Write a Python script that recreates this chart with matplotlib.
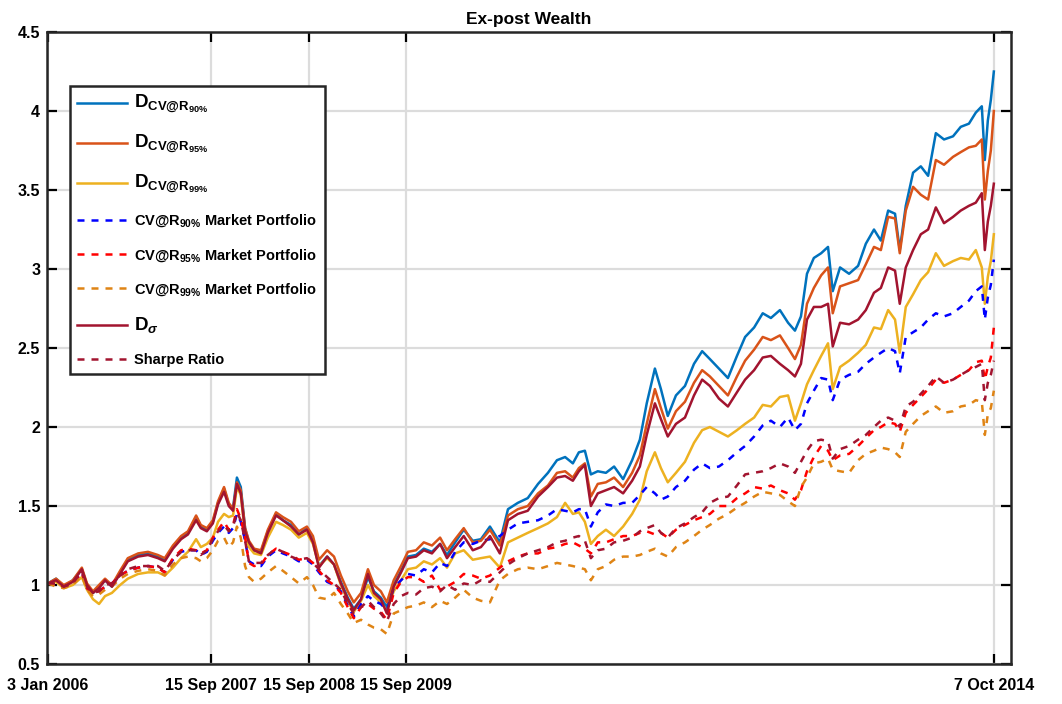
import numpy as np
import matplotlib
matplotlib.use("Agg")
import matplotlib.pyplot as plt

# bold sans like the matlab export (no narrow font here)
plt.rcParams['font.family'] = ['Liberation Sans', 'DejaVu Sans']
plt.rcParams['font.weight'] = 'bold'
plt.rcParams['mathtext.fontset'] = 'custom'
plt.rcParams['mathtext.rm'] = 'Liberation Sans:bold'
plt.rcParams['mathtext.bf'] = 'Liberation Sans:bold'
plt.rcParams['mathtext.it'] = 'Liberation Sans:italic'

# trading day index (3 Jan 2006 = 0)
days = [0, 19, 37, 58, 79, 91, 105, 119, 133, 149, 168, 186, 210, 233, 256, 272,
        291, 310, 326, 345, 356, 370, 384, 396, 410, 421, 431, 440, 449, 459, 468,
        480, 496, 512, 531, 547, 566, 584, 603, 617, 631, 650, 666, 682, 698, 712,
        729, 745, 759, 775, 789, 805, 822, 838, 857, 875, 894, 913, 929, 948, 968,
        989, 1008, 1029, 1052, 1071, 1094, 1117, 1141, 1164, 1185, 1204, 1222, 1236,
        1250, 1264, 1280, 1299, 1318, 1339, 1360, 1378, 1394, 1413, 1427, 1443, 1462,
        1483, 1504, 1523, 1541, 1562, 1583, 1604, 1623, 1644, 1664, 1683, 1704, 1723,
        1739, 1753, 1767, 1783, 1800, 1816, 1827, 1844, 1865, 1886, 1904, 1923, 1939,
        1956, 1972, 1983, 1997, 2014, 2032, 2049, 2067, 2086, 2107, 2125, 2144, 2160,
        2174, 2181, 2188, 2195, 2202]

d_cvar90 = [1.01, 1.04, 0.99, 1.03, 1.10, 1.00, 0.95, 0.99, 1.03, 0.99, 1.08, 1.16, 1.19, 1.20, 1.18, 1.16,
            1.24, 1.30, 1.33, 1.43, 1.37, 1.35, 1.40, 1.52, 1.61, 1.51, 1.49, 1.68, 1.62, 1.36, 1.27,
            1.22, 1.21, 1.34, 1.45, 1.41, 1.38, 1.32, 1.36, 1.28, 1.12, 1.18, 1.13, 1.02, 0.92, 0.85,
            0.91, 1.05, 0.96, 0.92, 0.86, 1.00, 1.09, 1.18, 1.19, 1.23, 1.21, 1.26, 1.19, 1.27, 1.35,
            1.28, 1.29, 1.37, 1.27, 1.48, 1.52, 1.55, 1.64, 1.71, 1.79, 1.81, 1.77, 1.84,
            1.85, 1.70, 1.72, 1.71, 1.75, 1.67, 1.79, 1.92, 2.15, 2.37, 2.24, 2.07, 2.20,
            2.26, 2.40, 2.48, 2.43, 2.37, 2.31, 2.45, 2.57, 2.63, 2.72, 2.69, 2.74, 2.66,
            2.61, 2.70, 2.97, 3.07, 3.10, 3.14, 2.86, 3.01, 2.97, 3.02, 3.16, 3.25, 3.18,
            3.37, 3.35, 3.12, 3.40, 3.61, 3.65, 3.59, 3.86, 3.82, 3.84, 3.90, 3.92, 3.99,
            4.03, 3.69, 3.94, 4.07, 4.25]

d_cvar95 = [1.01, 1.04, 1.00, 1.03, 1.11, 1.01, 0.96, 1.00, 1.04, 1.00, 1.09, 1.17, 1.20, 1.21, 1.19, 1.17,
            1.25, 1.31, 1.34, 1.44, 1.38, 1.36, 1.41, 1.53, 1.62, 1.52, 1.48, 1.65, 1.60, 1.36, 1.28,
            1.23, 1.22, 1.35, 1.46, 1.43, 1.40, 1.34, 1.37, 1.31, 1.16, 1.22, 1.18, 1.06, 0.96, 0.89,
            0.95, 1.10, 1.00, 0.96, 0.89, 1.03, 1.12, 1.21, 1.22, 1.27, 1.25, 1.30, 1.22, 1.29, 1.36,
            1.27, 1.28, 1.35, 1.25, 1.44, 1.48, 1.50, 1.58, 1.63, 1.71, 1.72, 1.68, 1.74,
            1.77, 1.56, 1.64, 1.65, 1.68, 1.62, 1.71, 1.82, 2.02, 2.24, 2.12, 1.99, 2.10,
            2.16, 2.28, 2.36, 2.32, 2.26, 2.20, 2.32, 2.42, 2.49, 2.57, 2.55, 2.58, 2.50,
            2.43, 2.52, 2.78, 2.88, 2.96, 3.01, 2.72, 2.89, 2.91, 2.93, 3.03, 3.14, 3.12,
            3.33, 3.32, 3.10, 3.37, 3.52, 3.47, 3.44, 3.69, 3.66, 3.71, 3.74, 3.77, 3.78,
            3.82, 3.44, 3.62, 3.75, 4.00]

d_cvar99 = [1.01, 1.02, 0.98, 1.00, 1.05, 0.97, 0.91, 0.88, 0.93, 0.95, 1.00, 1.04, 1.07, 1.08, 1.08, 1.06,
            1.11, 1.17, 1.21, 1.29, 1.24, 1.26, 1.30, 1.40, 1.45, 1.43, 1.44, 1.62, 1.57, 1.32, 1.24,
            1.20, 1.19, 1.30, 1.40, 1.38, 1.35, 1.30, 1.33, 1.26, 1.12, 1.17, 1.13, 1.00, 0.90, 0.83,
            0.90, 1.00, 0.93, 0.89, 0.84, 0.96, 1.03, 1.10, 1.11, 1.15, 1.13, 1.17, 1.11, 1.20, 1.22,
            1.16, 1.17, 1.18, 1.11, 1.27, 1.30, 1.33, 1.36, 1.39, 1.43, 1.52, 1.45, 1.46,
            1.40, 1.26, 1.31, 1.35, 1.31, 1.37, 1.45, 1.54, 1.72, 1.84, 1.74, 1.65, 1.71,
            1.78, 1.90, 1.98, 2.00, 1.97, 1.94, 1.98, 2.02, 2.06, 2.14, 2.13, 2.19, 2.20,
            2.04, 2.15, 2.27, 2.36, 2.45, 2.53, 2.24, 2.38, 2.42, 2.47, 2.52, 2.63, 2.62,
            2.74, 2.68, 2.47, 2.76, 2.84, 2.93, 2.98, 3.10, 3.02, 3.05, 3.07, 3.06, 3.12,
            3.01, 2.78, 2.95, 3.05, 3.22]

mkt_cvar90 = [1.01, 1.00, 0.99, 1.01, 1.08, 0.98, 0.95, 0.96, 0.99, 1.01, 1.06, 1.09, 1.11, 1.12, 1.11, 1.08,
              1.16, 1.21, 1.22, 1.22, 1.19, 1.21, 1.28, 1.33, 1.37, 1.33, 1.36, 1.45, 1.40, 1.28, 1.15,
              1.13, 1.12, 1.18, 1.22, 1.20, 1.18, 1.15, 1.16, 1.13, 1.08, 1.02, 1.00, 0.96, 0.87, 0.80,
              0.88, 0.93, 0.90, 0.88, 0.84, 0.98, 1.03, 1.07, 1.06, 1.10, 1.08, 1.14, 1.12, 1.21, 1.27,
              1.26, 1.28, 1.29, 1.31, 1.35, 1.39, 1.40, 1.41, 1.44, 1.48, 1.47, 1.46, 1.48,
              1.48, 1.37, 1.46, 1.51, 1.50, 1.52, 1.52, 1.57, 1.62, 1.58, 1.54, 1.56, 1.62,
              1.66, 1.73, 1.77, 1.74, 1.75, 1.79, 1.84, 1.88, 1.94, 2.01, 2.04, 2.00, 2.06,
              1.98, 2.02, 2.15, 2.23, 2.31, 2.30, 2.17, 2.30, 2.33, 2.35, 2.40, 2.44, 2.47,
              2.50, 2.48, 2.34, 2.57, 2.60, 2.63, 2.68, 2.72, 2.70, 2.72, 2.76, 2.80, 2.86,
              2.89, 2.68, 2.82, 2.90, 3.06]

mkt_cvar95 = [1.01, 1.00, 0.99, 1.01, 1.08, 0.98, 0.95, 0.96, 0.99, 1.01, 1.06, 1.09, 1.11, 1.12, 1.11, 1.08,
              1.17, 1.22, 1.23, 1.22, 1.20, 1.22, 1.30, 1.35, 1.40, 1.35, 1.38, 1.48, 1.42, 1.30, 1.14,
              1.12, 1.13, 1.19, 1.23, 1.21, 1.19, 1.16, 1.17, 1.14, 1.09, 1.03, 1.00, 0.95, 0.86, 0.79,
              0.86, 0.88, 0.85, 0.83, 0.78, 0.95, 1.02, 1.05, 1.05, 1.02, 1.06, 0.97, 0.99, 1.02, 1.07,
              1.06, 1.04, 1.06, 1.11, 1.15, 1.18, 1.20, 1.20, 1.23, 1.24, 1.26, 1.27, 1.25,
              1.23, 1.20, 1.27, 1.27, 1.29, 1.31, 1.31, 1.33, 1.34, 1.32, 1.33, 1.30, 1.35,
              1.38, 1.41, 1.43, 1.45, 1.50, 1.50, 1.55, 1.58, 1.62, 1.61, 1.63, 1.60, 1.58,
              1.54, 1.60, 1.72, 1.81, 1.88, 1.85, 1.79, 1.82, 1.83, 1.88, 1.93, 1.98, 2.00,
              2.03, 2.02, 1.97, 2.09, 2.14, 2.19, 2.24, 2.30, 2.28, 2.30, 2.33, 2.36, 2.41,
              2.42, 2.30, 2.38, 2.44, 2.63]

mkt_cvar99 = [1.01, 0.99, 0.98, 1.00, 1.06, 0.97, 0.93, 0.94, 0.97, 0.99, 1.04, 1.07, 1.09, 1.10, 1.09, 1.06,
              1.13, 1.17, 1.18, 1.17, 1.15, 1.17, 1.22, 1.28, 1.30, 1.24, 1.27, 1.37, 1.30, 1.12, 1.05,
              1.02, 1.04, 1.08, 1.12, 1.09, 1.05, 1.01, 1.05, 1.00, 0.92, 0.91, 0.95, 0.88, 0.82, 0.76,
              0.78, 0.75, 0.73, 0.72, 0.69, 0.82, 0.84, 0.86, 0.87, 0.89, 0.86, 0.90, 0.88, 0.92, 0.97,
              0.92, 0.90, 0.89, 1.03, 1.07, 1.10, 1.11, 1.10, 1.12, 1.14, 1.13, 1.12, 1.11,
              1.10, 1.03, 1.10, 1.12, 1.16, 1.18, 1.18, 1.19, 1.21, 1.23, 1.20, 1.18, 1.24,
              1.27, 1.31, 1.35, 1.38, 1.42, 1.45, 1.49, 1.52, 1.56, 1.59, 1.58, 1.57, 1.53,
              1.50, 1.62, 1.68, 1.77, 1.78, 1.80, 1.73, 1.72, 1.71, 1.79, 1.83, 1.85, 1.87,
              1.86, 1.84, 1.81, 1.97, 2.02, 2.07, 2.10, 2.13, 2.09, 2.10, 2.13, 2.14, 2.17,
              2.16, 1.95, 2.08, 2.12, 2.23]

d_sigma = [1.01, 1.03, 0.99, 1.02, 1.10, 1.00, 0.95, 0.98, 1.03, 0.99, 1.07, 1.15, 1.18, 1.19, 1.17, 1.15,
           1.23, 1.29, 1.32, 1.41, 1.36, 1.34, 1.39, 1.51, 1.59, 1.50, 1.47, 1.64, 1.58, 1.34, 1.27,
           1.22, 1.20, 1.33, 1.44, 1.41, 1.37, 1.32, 1.35, 1.27, 1.11, 1.18, 1.13, 1.01, 0.91, 0.84,
           0.91, 1.07, 0.95, 0.91, 0.82, 0.99, 1.08, 1.17, 1.18, 1.22, 1.20, 1.26, 1.17, 1.24, 1.31,
           1.22, 1.24, 1.31, 1.20, 1.41, 1.45, 1.47, 1.56, 1.62, 1.68, 1.69, 1.66, 1.72,
           1.76, 1.50, 1.58, 1.60, 1.62, 1.58, 1.66, 1.75, 1.95, 2.15, 2.05, 1.94, 2.02,
           2.06, 2.20, 2.30, 2.26, 2.18, 2.13, 2.22, 2.30, 2.36, 2.44, 2.45, 2.40, 2.36,
           2.32, 2.40, 2.68, 2.76, 2.76, 2.78, 2.51, 2.66, 2.65, 2.68, 2.74, 2.85, 2.88,
           3.01, 2.99, 2.78, 3.01, 3.12, 3.22, 3.25, 3.39, 3.29, 3.33, 3.37, 3.40, 3.42,
           3.48, 3.12, 3.30, 3.40, 3.54]

sharpe = [1.01, 1.01, 0.99, 1.01, 1.09, 0.99, 0.95, 0.96, 1.00, 1.01, 1.06, 1.10, 1.12, 1.12, 1.12, 1.09,
          1.16, 1.21, 1.22, 1.22, 1.19, 1.22, 1.29, 1.34, 1.38, 1.34, 1.37, 1.46, 1.41, 1.28, 1.15,
          1.14, 1.14, 1.19, 1.23, 1.21, 1.18, 1.16, 1.17, 1.14, 1.10, 1.05, 1.01, 0.97, 0.88, 0.82,
          0.86, 0.90, 0.86, 0.82, 0.77, 0.88, 0.93, 0.95, 0.94, 0.98, 0.99, 0.96, 1.00, 0.97, 1.01,
          1.00, 1.03, 1.02, 1.08, 1.13, 1.17, 1.20, 1.22, 1.24, 1.27, 1.28, 1.30, 1.31,
          1.28, 1.17, 1.22, 1.23, 1.27, 1.28, 1.30, 1.34, 1.36, 1.38, 1.33, 1.30, 1.36,
          1.39, 1.43, 1.46, 1.52, 1.55, 1.56, 1.63, 1.70, 1.71, 1.72, 1.74, 1.77, 1.75,
          1.71, 1.78, 1.85, 1.91, 1.92, 1.91, 1.80, 1.86, 1.88, 1.92, 1.95, 2.00, 2.04,
          2.06, 2.04, 2.00, 2.13, 2.16, 2.21, 2.26, 2.32, 2.28, 2.30, 2.33, 2.36, 2.38,
          2.40, 2.17, 2.28, 2.33, 2.42]

tick_days = [0, 380, 608, 834, 2202]
tick_labels = ['3 Jan 2006', '15 Sep 2007', '15 Sep 2008', '15 Sep 2009', '7 Oct 2014']

fig = plt.figure(figsize=(10.62, 7.04), dpi=100)
ax = fig.add_axes([0.0443, 0.0568, 0.9077, 0.8977])

lw = 1.8
dash = (0, (2.8, 2.8))
ax.plot(days, d_cvar90, color='#0072BD', lw=lw,
        label=r'$\mathbf{D}_{\mathbf{CV@R}_{\mathbf{90\%}}}$')
ax.plot(days, d_cvar95, color='#D95319', lw=lw,
        label=r'$\mathbf{D}_{\mathbf{CV@R}_{\mathbf{95\%}}}$')
ax.plot(days, d_cvar99, color='#EDB120', lw=lw,
        label=r'$\mathbf{D}_{\mathbf{CV@R}_{\mathbf{99\%}}}$')
ax.plot(days, mkt_cvar90, color='#0000FF', lw=lw, ls=dash,
        label=r'CV@R$_{\mathbf{90\%}}$ Market Portfolio')
ax.plot(days, mkt_cvar95, color='#FF0000', lw=lw, ls=dash,
        label=r'CV@R$_{\mathbf{95\%}}$ Market Portfolio')
ax.plot(days, mkt_cvar99, color='#DF8415', lw=lw, ls=dash,
        label=r'CV@R$_{\mathbf{99\%}}$ Market Portfolio')
ax.plot(days, d_sigma, color='#A2142F', lw=lw,
        label=r'$\mathbf{D}_{\sigma}$')
ax.plot(days, sharpe, color='#A2142F', lw=lw, ls=dash,
        label='Sharpe Ratio')

ax.set_xlim(-2, 2242)
ax.set_ylim(0.5, 4.5)
ax.set_xticks(tick_days)
ax.set_xticklabels(tick_labels)
ax.set_yticks(np.arange(0.5, 4.51, 0.5))
ax.set_yticklabels(['0.5', '1', '1.5', '2', '2.5', '3', '3.5', '4', '4.5'])

ax.grid(True, color='#dcdcdc', lw=1.6)
ax.set_axisbelow(True)
ax.tick_params(direction='in', length=7, width=1.6, labelsize=11.5,
               top=True, right=True)
ax.tick_params(axis='x', pad=10)
ax.tick_params(axis='y', pad=5)
for sp in ax.spines.values():
    sp.set_linewidth(1.8)
    sp.set_color('#262626')

ax.set_title('Ex-post Wealth', fontsize=12.5, fontweight='bold', pad=6)

leg = ax.legend(loc='upper left', bbox_to_anchor=(0.024, 0.915), fontsize=10.5,
                handlelength=3.4, handletextpad=0.5, labelspacing=1.2,
                borderpad=0.5, borderaxespad=0, fancybox=False, framealpha=1)
leg.get_frame().set_edgecolor('#262626')
leg.get_frame().set_linewidth(1.8)
# the D labels carry nested subscripts, draw them larger like the original
for i in (0, 1, 2, 6):
    leg.get_texts()[i].set_fontsize(13.5)

fig.savefig('out.png', dpi=100)
